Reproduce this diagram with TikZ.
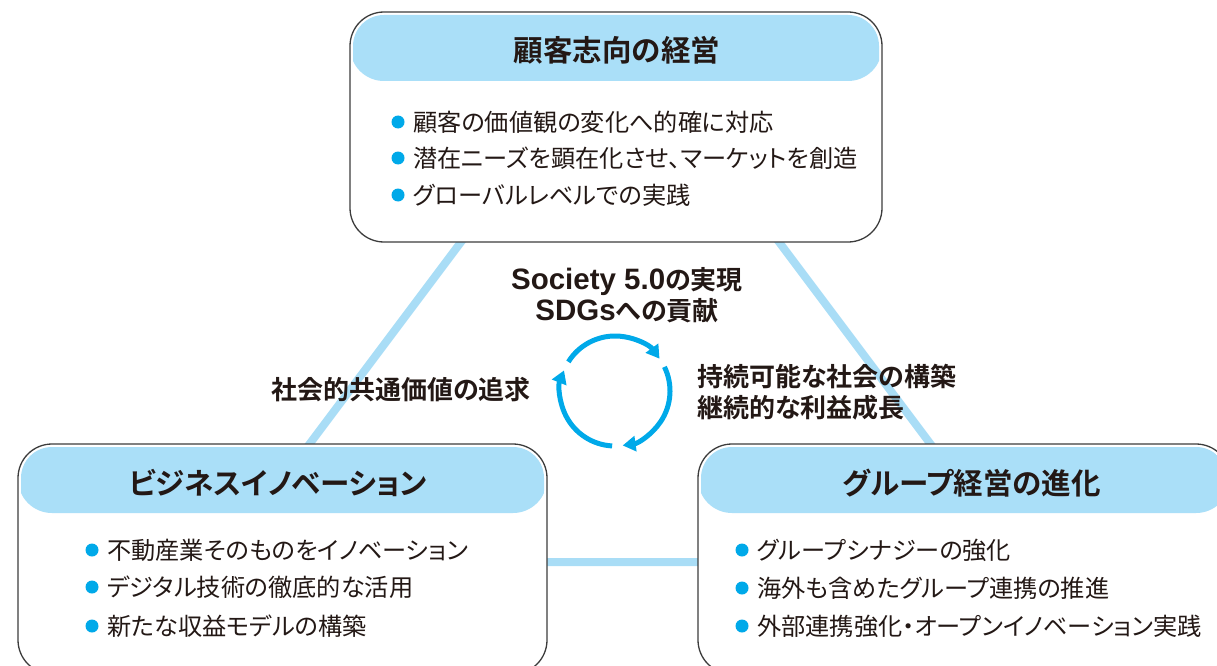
\documentclass[tikz,border=0pt]{standalone}
\usepackage{fontspec}
\setmainfont{Noto Sans CJK JP}[BoldFont={Noto Sans CJK JP Bold},RawFeature=+palt]
\newfontfamily\latinfont{Liberation Sans}
\usetikzlibrary{arrows.meta}
\definecolor{hdr}{HTML}{AADFF8}
\definecolor{trilc}{HTML}{A9DDF6}
\definecolor{cy}{HTML}{00A9E9}
\definecolor{bline}{HTML}{3C3C3C}
\definecolor{txt}{HTML}{231815}
\newcommand{\latn}[1]{{\latinfont\fontsize{29.5}{31}\selectfont #1}}
\begin{document}
\begin{tikzpicture}[x=1pt,y=1pt,
 box/.style={draw=bline, line width=1.3pt, rounded corners=34pt, fill=white,
   minimum width=532pt, minimum height=230pt, inner sep=0pt,
   path picture={
     \begin{scope}
     \clip[rounded corners=31pt] ([shift={(3pt,-3pt)}]path picture bounding box.north west) rectangle ([shift={(-3pt,3pt)}]path picture bounding box.south east);
     \fill[hdr] (path picture bounding box.north west) rectangle ([yshift=-69pt]path picture bounding box.north east);
     \end{scope}}},
 ttl/.style={font=\fontsize{29.5}{34}\selectfont\bfseries, text=txt, inner sep=0pt},
 itm/.style={font=\fontsize{24.2}{29}\selectfont, text=txt, inner sep=0pt, anchor=west},
 lbl/.style={font=\fontsize{26}{31}\selectfont\bfseries, text=txt, inner sep=0pt},
 triline/.style={draw=trilc, line width=8pt},
 cyc/.style={draw=cy, line width=5pt, -{Triangle[length=13pt,width=15pt]}},
 dot/.style={fill=cy}
]
\useasboundingbox (0,0) rectangle (1217,-666);
\begin{scope}
\clip (0,0) rectangle (1217,-666);
% triangle behind boxes
\coordinate (va) at (620,-30);
\coordinate (vb) at (221,-562);
\coordinate (vc) at (1019,-562);
\draw[triline] (va) -- (vb) -- (vc) -- cycle;

% boxes
\node[box] (topbox) at (616,-127) {};
\node[box, minimum width=529pt] (leftbox) at (282.5,-559) {};
\node[box] (rightbox) at (964,-559) {};

% titles
\node[ttl] (t1) at (617,-50) {顧客志向の経営};
\node[ttl] (t2) at (278,-483) {ビジネスイノベーション};
\node[ttl] (t3) at (972,-483) {グループ経営の進化};

% top items
\node[itm] (a1) at (413,-122) {顧客の価値観の変化へ的確に対応};
\node[itm] (a2) at (413,-158) {潜在ニーズを顕在化させ、マーケットを創造};
\node[itm] (a3) at (413,-195) {グローバルレベルでの実践};
\fill[dot] ([xshift=-15pt]a1.west) circle (6.5pt);
\fill[dot] ([xshift=-15pt]a2.west) circle (6.5pt);
\fill[dot] ([xshift=-15pt]a3.west) circle (6.5pt);

% left items
\node[itm] (b1) at (107,-550) {不動産業そのものをイノベーション};
\node[itm] (b2) at (107,-587) {デジタル技術の徹底的な活用};
\node[itm] (b3) at (107,-626) {新たな収益モデルの構築};
\fill[dot] ([xshift=-15pt]b1.west) circle (6.5pt);
\fill[dot] ([xshift=-15pt]b2.west) circle (6.5pt);
\fill[dot] ([xshift=-15pt]b3.west) circle (6.5pt);

% right items
\node[itm] (c1) at (757,-550) {グループシナジーの強化};
\node[itm] (c2) at (757,-588) {海外も含めたグループ連携の推進};
\node[itm] (c3) at (757,-626) {外部連携強化・オープンイノベーション実践};
\fill[dot] ([xshift=-15pt]c1.west) circle (6.5pt);
\fill[dot] ([xshift=-15pt]c2.west) circle (6.5pt);
\fill[dot] ([xshift=-15pt]c3.west) circle (6.5pt);

% centre labels
\node[lbl, align=center] (soc) at (627,-295) {\latn{Society 5.0}の実現\\\latn{SDGs}への貢献};
\node[lbl] (shakai) at (401,-390) {社会的共通価値の追求};
\node[lbl, align=left, anchor=west] (jizoku) at (697,-392) {持続可能な社会の構築\\継続的な利益成長};

% cycle
\coordinate (cc) at (615,-391);
\draw[cyc] ([shift={(148:55pt)}]cc) arc[start angle=148, end angle=36, radius=55pt];
\draw[cyc] ([shift={(26:55pt)}]cc) arc[start angle=26, end angle=-82, radius=55pt];
\draw[cyc] ([shift={(-93:55pt)}]cc) arc[start angle=-93, end angle=-202, radius=55pt];
\end{scope}
\end{tikzpicture}
\end{document}
